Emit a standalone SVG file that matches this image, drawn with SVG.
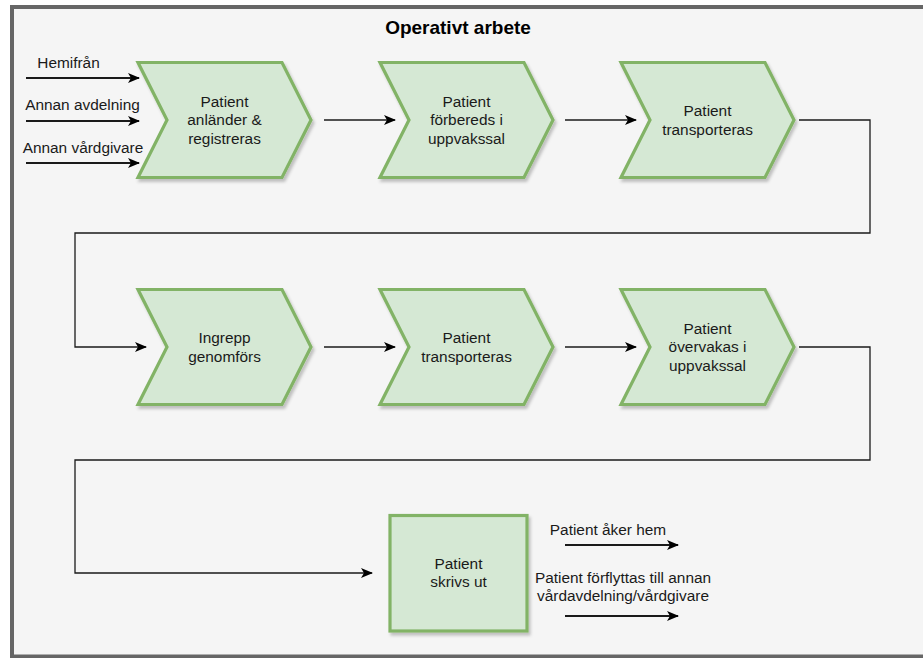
<svg xmlns="http://www.w3.org/2000/svg" width="923" height="658" viewBox="0 0 923 658">
<style>
.t{font-family:"Liberation Sans",Arial,sans-serif;font-size:15.4px;fill:#1a1a1a;text-anchor:middle}
.title{font-family:"Liberation Sans",Arial,sans-serif;font-size:19px;font-weight:bold;fill:#000;text-anchor:middle}
.shape{fill:#d5e8d4;stroke:#82b366;stroke-width:3.2;filter:url(#sh)}
.c{fill:none;stroke:#1a1a1a;stroke-width:1.3}
.a{fill:none;stroke:#1a1a1a;stroke-width:2;marker-end:url(#ah)}
.c.m{marker-end:url(#ah)}
</style>
<defs>
<filter id="sh" x="-10%" y="-10%" width="130%" height="130%">
<feDropShadow dx="2" dy="3" stdDeviation="1.5" flood-color="#000" flood-opacity="0.22"/>
</filter>
<marker id="ah" markerUnits="userSpaceOnUse" markerWidth="12" markerHeight="10" refX="11" refY="5" orient="auto" viewBox="0 0 12 10">
<path d="M0,0 L12,5 L0,10 L3,5 z" fill="#000"/>
</marker>
</defs>
<rect x="0" y="0" width="923" height="658" fill="#ffffff"/>
<rect id="frame" x="12" y="7" width="960" height="649.5" fill="#f5f5f5" stroke="#666666" stroke-width="4"/>
<text class="title" x="458" y="34">Operativt arbete</text>

<g id="connectors">
<path class="a" d="M26,78 L139,78"/>
<path class="a" d="M26,121 L139,121"/>
<path class="a" d="M26,163 L139,163"/>
<path class="c m" d="M324,120 L395,120"/>
<path class="c m" d="M565,120 L636,120"/>
<path class="c m" d="M799,120 L870,120 L870,233 L75,233 L75,347 L146,347"/>
<path class="c m" d="M324,347 L395,347"/>
<path class="c m" d="M565,347 L636,347"/>
<path class="c m" d="M799,347 L870,347 L870,460 L75,460 L75,573 L372,573"/>
<path class="a" d="M565,545 L678,545"/>
<path class="a" d="M565,616 L678,616"/>
<text class="t" x="68.5" y="68">Hemifrån</text>
<text class="t" x="82.5" y="110">Annan avdelning</text>
<text class="t" x="83" y="152.5">Annan vårdgivare</text>
<text class="t" x="608" y="535">Patient åker hem</text>
<text class="t" x="623" y="583">Patient förflyttas till annan</text>
<text class="t" x="623" y="601">vårdavdelning/vårdgivare</text>
</g>

<g id="n1">
<polygon class="shape" points="138,62.5 282,62.5 311,120 282,177.5 138,177.5 167,120"/>
<text class="t" x="224.5" y="106.5">Patient</text>
<text class="t" x="224.5" y="125">anländer &amp;</text>
<text class="t" x="224.5" y="143.5">registreras</text>
</g>
<g id="n2">
<polygon class="shape" points="380,62.5 524,62.5 553,120 524,177.5 380,177.5 409,120"/>
<text class="t" x="466.5" y="106.5">Patient</text>
<text class="t" x="466.5" y="125">förbereds i</text>
<text class="t" x="466.5" y="143.5">uppvakssal</text>
</g>
<g id="n3">
<polygon class="shape" points="621,62.5 765,62.5 794,120 765,177.5 621,177.5 650,120"/>
<text class="t" x="707.5" y="116">Patient</text>
<text class="t" x="707.5" y="134.5">transporteras</text>
</g>
<g id="n4">
<polygon class="shape" points="138,289.5 282,289.5 311,347 282,404.5 138,404.5 167,347"/>
<text class="t" x="224.5" y="343">Ingrepp</text>
<text class="t" x="224.5" y="361.5">genomförs</text>
</g>
<g id="n5">
<polygon class="shape" points="380,289.5 524,289.5 553,347 524,404.5 380,404.5 409,347"/>
<text class="t" x="466.5" y="343">Patient</text>
<text class="t" x="466.5" y="361.5">transporteras</text>
</g>
<g id="n6">
<polygon class="shape" points="621,289.5 765,289.5 794,347 765,404.5 621,404.5 650,347"/>
<text class="t" x="707.5" y="333.5">Patient</text>
<text class="t" x="707.5" y="352">övervakas i</text>
<text class="t" x="707.5" y="370.5">uppvakssal</text>
</g>
<g id="n7">
<rect class="shape" x="390" y="515.5" width="137" height="115.5"/>
<text class="t" x="458.5" y="568.5">Patient</text>
<text class="t" x="458.5" y="587">skrivs ut</text>
</g>
</svg>
